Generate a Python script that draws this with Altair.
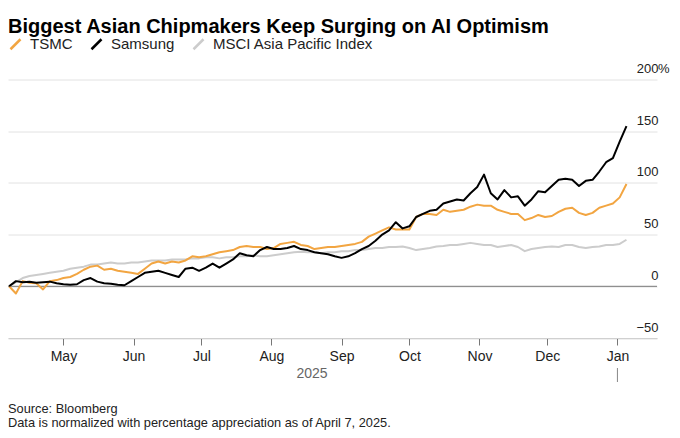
import altair as alt
import pandas as pd

FONT = "Liberation Sans, Arial, Helvetica, sans-serif"

dates = [
    "2025-04-07", "2025-04-10", "2025-04-13", "2025-04-16", "2025-04-19", "2025-04-22", "2025-04-25", "2025-04-28",
    "2025-05-01", "2025-05-04", "2025-05-07", "2025-05-10", "2025-05-13", "2025-05-16", "2025-05-19", "2025-05-22",
    "2025-05-25", "2025-05-28", "2025-05-31",
    "2025-06-03", "2025-06-06", "2025-06-09", "2025-06-12", "2025-06-15", "2025-06-18", "2025-06-21", "2025-06-24",
    "2025-06-27", "2025-06-30",
    "2025-07-03", "2025-07-06", "2025-07-09", "2025-07-12", "2025-07-15", "2025-07-18", "2025-07-21", "2025-07-24",
    "2025-07-27", "2025-07-30",
    "2025-08-02", "2025-08-05", "2025-08-08", "2025-08-11", "2025-08-14", "2025-08-17", "2025-08-20", "2025-08-23",
    "2025-08-26", "2025-08-29",
    "2025-09-01", "2025-09-04", "2025-09-07", "2025-09-10", "2025-09-13", "2025-09-16", "2025-09-19", "2025-09-22",
    "2025-09-25", "2025-09-28",
    "2025-10-01", "2025-10-04", "2025-10-07", "2025-10-10", "2025-10-13", "2025-10-16", "2025-10-19", "2025-10-22",
    "2025-10-25", "2025-10-28", "2025-10-31",
    "2025-11-03", "2025-11-06", "2025-11-09", "2025-11-12", "2025-11-15", "2025-11-18", "2025-11-21", "2025-11-24",
    "2025-11-27", "2025-11-30",
    "2025-12-03", "2025-12-06", "2025-12-09", "2025-12-12", "2025-12-15", "2025-12-18", "2025-12-21", "2025-12-24",
    "2025-12-27", "2025-12-30",
    "2026-01-02", "2026-01-05",
]

samsung = [
    0, 5, 4, 4.5, 3.5, 4, 4.5, 3,
    2, 1.5, 2, 6, 8, 4.5, 3, 2.5, 1.5, 1, 5,
    9, 13, 14, 15, 13, 11, 9, 17, 18, 15,
    18, 22, 18, 22, 26, 32, 30, 29, 35, 38,
    36, 36, 37, 39, 36, 35, 33, 32, 31, 29,
    27.5, 29, 32, 36, 39, 44, 50, 54, 62, 56,
    58, 67, 70, 73, 74, 80, 82, 84, 83, 90, 96,
    108, 90, 84, 93, 86, 87, 78, 84, 92, 91,
    97, 103, 104, 103, 97, 102, 103, 111, 120, 124,
    140, 155,
]

tsmc = [
    0, -7, 5, 3.5, 3, -3, 5, 6,
    8, 9, 12, 16, 19, 20, 16, 17, 15, 14, 13,
    12, 17, 22, 24, 22, 24, 23, 25, 29, 28,
    29, 31, 33, 34, 35, 38, 39, 38, 38, 36,
    37, 41, 42, 43, 40, 39, 36, 37, 38, 38,
    39, 40, 41, 43, 48, 51, 54, 57, 55, 55,
    55, 67, 70, 70, 69, 74, 72, 73, 74, 77, 79,
    78, 78, 74, 72, 70, 70, 64, 66, 69, 67,
    68, 72, 75, 76, 71, 69, 71, 76, 78, 80,
    86, 99,
]

msci = [
    0, 4, 8, 10, 11, 12, 13, 14,
    15, 17, 18, 19, 21, 21, 22, 23, 22, 22, 23,
    23, 24, 25, 25, 25, 26, 26, 26, 27, 27,
    28, 28, 27, 28, 28, 29, 29, 30, 29, 29,
    30, 31, 32, 33, 33.5, 33, 33, 32, 33, 33,
    34, 34, 35, 35, 36, 37, 37, 38, 38, 38.5,
    37, 35, 36, 37, 38.5, 39, 40, 40, 41, 42, 41,
    40, 40, 38, 39, 40, 38, 34, 36, 37, 38,
    38.5, 38, 40, 40, 38, 37, 38, 38.5, 40, 40,
    41, 45,
]

series_names = ["TSMC", "Samsung", "MSCI Asia Pacific Index"]
series_colors = ["#F2A541", "#000000", "#CCCCCC"]
y_ticks = [-50, 0, 50, 100, 150, 200]
month_ticks = [(2025, m) for m in range(5, 13)] + [(2026, 1)]

title_text = "Biggest Asian Chipmakers Keep Surging on AI Optimism"
year_label = "2025"
source_lines = ["Source: Bloomberg", "Data is normalized with percentage appreciation as of April 7, 2025."]

# long table, drawn bottom-to-top: MSCI, TSMC, Samsung
rows = []
for name, vals in [("MSCI Asia Pacific Index", msci), ("TSMC", tsmc), ("Samsung", samsung)]:
    for d, v in zip(dates, vals):
        rows.append({"date": pd.Timestamp(d), "value": v, "series": name})
df = pd.DataFrame(rows)

W = 649
H = 258.5

x_scale = alt.Scale(domain=[alt.DateTime(year=2025, month=4, date=6, hours=12),
                            alt.DateTime(year=2026, month=1, date=18, hours=12)])
y_scale = alt.Scale(domain=[-50, 200], nice=False, zero=False)

x_axis = alt.Axis(
    values=[alt.DateTime(year=y, month=m, date=1) for y, m in month_ticks],
    format="%b", title=None, grid=False,
    domain=True, domainColor="#d0d0d0", domainWidth=1,
    ticks=True, tickColor="#777777", tickSize=7, tickWidth=1,
    labelFont=FONT, labelFontSize=14, labelColor="#222222",
    labelBaseline="alphabetic", labelPadding=15.5, labelFlush=False,
)
y_axis = alt.Axis(
    orient="right", values=y_ticks, title=None,
    grid=True, gridColor="#e2e2e2", gridWidth=1,
    domain=False, ticks=False, tickSize=0,
    labelFont=FONT, labelFontSize=13, labelColor="#222222",
    labelAlign="right", labelBaseline="alphabetic", labelPadding=1, labelOffset=-7,
    labelFlush=False, labelOverlap=False, labelBound=False,
)

legend = alt.Legend(
    orient="none", legendX=0, legendY=-43, direction="horizontal", title=None,
    symbolType="M-1,1L1,-1", symbolSize=100, symbolStrokeWidth=2.5,
    labelFont=FONT, labelFontSize=15, labelColor="#222222", labelLimit=400,
    labelOffset=7, columnPadding=13, padding=0,
)

lines = alt.Chart(df).mark_line(strokeWidth=2, strokeJoin="round").encode(
    x=alt.X("date:T", scale=x_scale, axis=x_axis),
    y=alt.Y("value:Q", scale=y_scale, axis=y_axis),
    color=alt.Color("series:N", scale=alt.Scale(domain=series_names, range=series_colors), legend=legend),
)

zero_rule = alt.Chart(pd.DataFrame({"value": [0]})).mark_rule(color="#777777", strokeWidth=1).encode(
    y=alt.Y("value:Q", scale=y_scale)
)

pct = alt.Chart(pd.DataFrame({"value": [200], "t": ["%"]})).mark_text(
    align="left", baseline="alphabetic", dy=-7, font=FONT, fontSize=13, color="#222222"
).encode(y=alt.Y("value:Q", scale=y_scale), x=alt.value(W + 1), text="t:N")

year_text = alt.Chart(pd.DataFrame({"t": [year_label]})).mark_text(
    align="center", baseline="alphabetic", font=FONT, fontSize=14, color="#666666"
).encode(x=alt.value(304), y=alt.value(298.5), text="t:N")

year_sep = alt.Chart(pd.DataFrame({"d": [0]})).mark_rule(color="#888888", strokeWidth=1).encode(
    x=alt.datum(alt.DateTime(year=2026, month=1, date=1)),
    y=alt.value(288.5), y2=alt.value(302.5),
)

src_df = pd.DataFrame({"t": source_lines, "yy": [H + 74.5, H + 88.9]})
source = alt.Chart(src_df).mark_text(
    align="left", baseline="alphabetic", font=FONT, fontSize=12.8, color="#222222"
).encode(x=alt.value(0), y=alt.Y("yy:Q", scale=None), text="t:N")

chart = alt.layer(zero_rule, lines, pct, year_text, year_sep, source).properties(
    width=W, height=H,
    padding={"left": 0, "top": 71.5, "right": 15, "bottom": 92},
    autosize=alt.AutoSizeParams(type="none"),
    title=alt.TitleParams(
        text=title_text, anchor="start", frame="group", orient="top",
        baseline="alphabetic", offset=-16, font=FONT, fontSize=20,
        fontWeight="bold", color="#000000",
    ),
).configure(font=FONT, background="white").configure_view(stroke=None)

chart.save("out.html", embed_options={"renderer": "svg", "actions": False})
